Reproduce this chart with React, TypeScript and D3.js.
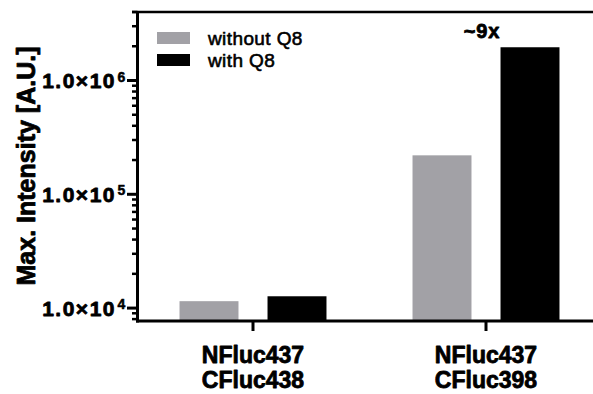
import React from "react";
import * as d3 from "d3";

const categories = ["NFluc437\nCFluc438", "NFluc437\nCFluc398"];
const seriesNames = ["without Q8", "with Q8"];
const withoutQ8 = [11500, 220000];
const withQ8 = [12700, 1960000];
const majorTicks = [1e4, 1e5, 1e6];
const majorTickLabels = ["4", "5", "6"];
const annotation = "~9x";
const yTitle = "Max. Intensity [A.U.]";

const W = 593;
const H = 394;
const FONT = "'Liberation Sans', Arial, Helvetica, sans-serif";
const GRAY = "#a2a1a6";
const COLORS = [GRAY, "#000000"];

export default function App() {
  const axisX = 137.5;
  const axisY = 321;
  const top = 12;
  const y = d3.scaleLog().domain([7700, 4e6]).range([axisY, top]);
  const x0 = d3.scaleBand<string>().domain(categories).range([136.5, 602.5]);
  const x1 = d3
    .scaleBand<string>()
    .domain(seriesNames)
    .range([-88, 88])
    .paddingInner(0.33)
    .paddingOuter(0.165);
  const series = [withoutQ8, withQ8];

  const minor: number[] = [];
  for (let e = 3; e <= 6; e++) {
    for (let m = 2; m <= 9; m++) {
      const v = m * Math.pow(10, e);
      if (v >= 7700 && v <= 4e6) minor.push(v);
    }
  }

  const heavy = { stroke: "#000", strokeWidth: 0.8, strokeLinejoin: "round" as const };

  return (
    <svg
      width={W}
      height={H}
      style={{ position: "absolute", left: 0, top: 0, background: "#fff" }}
      fontFamily={FONT}
    >
      {/* bars */}
      {categories.map((c, ci) => {
        const cx = (x0(c) as number) + x0.bandwidth() / 2;
        return seriesNames.map((s, si) => {
          const v = series[si][ci];
          const bx = cx + (x1(s) as number);
          return (
            <rect
              key={c + s}
              x={bx}
              y={y(v)}
              width={x1.bandwidth()}
              height={axisY - y(v)}
              fill={COLORS[si]}
            />
          );
        });
      })}

      {/* top line */}
      <line x1={132} x2={W} y1={top} y2={top} stroke="#000" strokeWidth={2.5} />
      {/* y axis */}
      <line x1={axisX} x2={axisX} y1={top - 1} y2={axisY + 1.5} stroke="#000" strokeWidth={3} />
      {/* x axis */}
      <line x1={axisX - 1.5} x2={W} y1={axisY} y2={axisY} stroke="#000" strokeWidth={3} />

      {minor.map((v) => (
        <line key={"m" + v} x1={132} x2={axisX} y1={y(v)} y2={y(v)} stroke="#000" strokeWidth={2.5} />
      ))}
      {majorTicks.map((v, i) => (
        <g key={"M" + v}>
          <line x1={127} x2={axisX} y1={y(v)} y2={y(v)} stroke="#000" strokeWidth={3} />
          <text
            x={116}
            y={y(v) + 7.5}
            textAnchor="end"
            fontSize={21}
            fontWeight="bold"
            letterSpacing={1.5}
            {...heavy}
          >
            1.0×10
          </text>
          <text x={117.5} y={y(v) + 1} fontSize={14} fontWeight="bold" {...heavy} strokeWidth={0.5}>
            {majorTickLabels[i]}
          </text>
        </g>
      ))}

      {/* category ticks and labels */}
      {categories.map((c) => {
        const cx = (x0(c) as number) + x0.bandwidth() / 2;
        const lines = c.split("\n");
        return (
          <g key={"c" + c}>
            <line x1={cx} x2={cx} y1={axisY} y2={331} stroke="#000" strokeWidth={3} />
            {lines.map((l, li) => (
              <text
                key={l}
                x={cx}
                y={363 + li * 25}
                textAnchor="middle"
                fontSize={23}
                fontWeight="bold"
                {...heavy}
              >
                {l}
              </text>
            ))}
          </g>
        );
      })}

      {/* y title */}
      <text
        transform="translate(35,166) rotate(-90)"
        textAnchor="middle"
        fontSize={25}
        fontWeight="bold"
        {...heavy}
      >
        {yTitle}
      </text>

      {/* legend */}
      {seriesNames.map((s, i) => (
        <g key={"l" + s}>
          <rect x={157} y={32 + i * 22} width={33} height={12} fill={COLORS[i]} />
          <text
            x={208}
            y={45 + i * 22}
            fontSize={19}
            letterSpacing={0.4}
            stroke="#000"
            strokeWidth={0.6}
          >
            {s}
          </text>
        </g>
      ))}

      {/* annotation */}
      <text
        x={(x0(categories[1]) as number) + x0.bandwidth() / 2 - 4}
        y={37.5}
        textAnchor="middle"
        fontSize={20}
        fontWeight="bold"
        letterSpacing={0.8}
        {...heavy}
      >
        {annotation}
      </text>
    </svg>
  );
}
